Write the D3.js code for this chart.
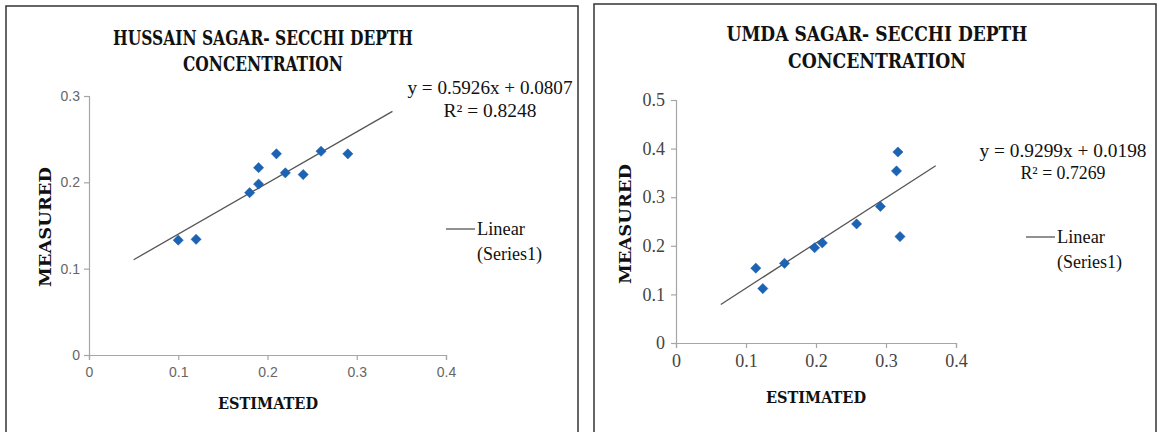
<!DOCTYPE html>
<html><head><meta charset="utf-8">
<script src="https://cdn.jsdelivr.net/npm/d3@7"></script>
<style>body{margin:0;background:#fff}svg{display:block}</style>
</head><body>
<svg id="c" width="1158" height="432"></svg>
<script>
// ---- data ----
const hsEstimated = [0.10, 0.12, 0.18, 0.19, 0.19, 0.21, 0.22, 0.24, 0.26, 0.29];
const hsMeasured  = [0.133, 0.134, 0.188, 0.198, 0.217, 0.233, 0.211, 0.209, 0.236, 0.233];
const hsTrend = {slope: 0.5926, intercept: 0.0807, xFrom: 0.05, xTo: 0.34};
const hsXTicks = [0, 0.1, 0.2, 0.3, 0.4];
const hsYTicks = [0, 0.1, 0.2, 0.3];
const hsTitle = ["HUSSAIN SAGAR- SECCHI DEPTH", "CONCENTRATION"];
const hsEquation = ["y = 0.5926x + 0.0807", "R² = 0.8248"];

const umEstimated = [0.114, 0.124, 0.155, 0.198, 0.209, 0.258, 0.292, 0.315, 0.317, 0.320];
const umMeasured  = [0.154, 0.112, 0.164, 0.196, 0.206, 0.245, 0.281, 0.354, 0.393, 0.219];
const umTrend = {slope: 0.9299, intercept: 0.0198, xFrom: 0.064, xTo: 0.371};
const umXTicks = [0, 0.1, 0.2, 0.3, 0.4];
const umYTicks = [0, 0.1, 0.2, 0.3, 0.4, 0.5];
const umTitle = ["UMDA SAGAR- SECCHI DEPTH", "CONCENTRATION"];
const umEquation = ["y = 0.9299x + 0.0198", "R² = 0.7269"];

const legendLabel = ["Linear", "(Series1)"];
const xTitle = "ESTIMATED", yTitle = "MEASURED";

const svg = d3.select("#c");
const titleFont = "'DejaVu Serif Condensed','DejaVu Serif',serif";
const serif = "'Liberation Serif','Times New Roman',serif";

function chart(cfg) {
  const g = svg.append("g");
  g.append("rect").attr("x", cfg.panel[0]).attr("y", cfg.panel[1])
    .attr("width", cfg.panel[2]).attr("height", cfg.panel[3])
    .attr("fill", "#fff").attr("stroke", "#333").attr("stroke-width", 1.5);

  const x = d3.scaleLinear().domain([0, 0.4]).range(cfg.xr);
  const y = d3.scaleLinear().domain(cfg.yDomain).range(cfg.yr);

  const xa = g.append("g").attr("transform", `translate(0,${cfg.yr[0]})`)
    .call(d3.axisBottom(x).tickValues(cfg.xTicks).tickFormat(d3.format("")).tickSizeOuter(0).tickSize(5).tickPadding(cfg.tickPadX));
  const ya = g.append("g").attr("transform", `translate(${cfg.xr[0]},0)`)
    .call(d3.axisLeft(y).tickValues(cfg.yTicks).tickFormat(d3.format("")).tickSizeOuter(0).tickSize(5).tickPadding(cfg.tickPadY));
  [xa, ya].forEach(a => {
    a.select(".domain").attr("stroke", "#a6a6a6").attr("stroke-width", 1.2);
    a.selectAll(".tick line").attr("stroke", "#a6a6a6").attr("stroke-width", 1.2);
    a.selectAll(".tick text").attr("fill", cfg.tickColor)
      .style("font-family", cfg.tickFont).style("font-size", cfg.tickSize + "px");
  });

  const t = cfg.trend;
  g.append("line")
    .attr("x1", x(t.xFrom)).attr("y1", y(t.slope * t.xFrom + t.intercept))
    .attr("x2", x(t.xTo)).attr("y2", y(t.slope * t.xTo + t.intercept))
    .attr("stroke", "#555").attr("stroke-width", 1.3);

  const sym = d3.symbol().type(d3.symbolSquare).size(52);
  g.selectAll("path.pt").data(cfg.xs.map((v, i) => [v, cfg.ys[i]])).join("path")
    .attr("class", "pt").attr("d", sym)
    .attr("transform", d => `translate(${x(d[0])},${y(d[1])}) rotate(45)`)
    .attr("fill", "#1b63b5").attr("stroke", "#1f5aa0").attr("stroke-width", 0.5);

  cfg.title.forEach((s, i) => {
    g.append("text").text(s).attr("x", cfg.titleX).attr("y", cfg.titleY[i])
      .attr("text-anchor", "middle").attr("textLength", cfg.titleLen[i]).attr("lengthAdjust", "spacingAndGlyphs")
      .style("font-family", titleFont).style("font-weight", "bold").style("font-size", "20px").attr("fill", "#111");
  });

  g.append("text").text(xTitle).attr("x", cfg.xTitlePos[0]).attr("y", cfg.xTitlePos[1])
    .attr("text-anchor", "middle").attr("textLength", 100).attr("lengthAdjust", "spacingAndGlyphs")
    .style("font-family", titleFont).style("font-weight", "bold").style("font-size", "16px").attr("fill", "#111");
  g.append("text").text(yTitle)
    .attr("transform", `translate(${cfg.yTitlePos[0]},${cfg.yTitlePos[1]}) rotate(-90)`)
    .attr("text-anchor", "middle").attr("textLength", 120).attr("lengthAdjust", "spacingAndGlyphs")
    .style("font-family", titleFont).style("font-weight", "bold").style("font-size", "16px").attr("fill", "#111");

  cfg.equation.forEach((s, i) => {
    g.append("text").text(s).attr("x", cfg.eqX).attr("y", cfg.eqY[i])
      .attr("text-anchor", "middle").attr("textLength", cfg.eqLen[i]).attr("lengthAdjust", "spacingAndGlyphs")
      .style("font-family", serif).style("font-size", "18px").attr("fill", "#111");
  });

  g.append("line").attr("x1", cfg.legX).attr("x2", cfg.legX + 29)
    .attr("y1", cfg.legY).attr("y2", cfg.legY).attr("stroke", "#555").attr("stroke-width", 1.3);
  legendLabel.forEach((s, i) => {
    g.append("text").text(s).attr("x", cfg.legX + 31).attr("y", cfg.legY + 6 + i * 25)
      .attr("textLength", i === 0 ? 48 : 65).attr("lengthAdjust", "spacingAndGlyphs")
      .style("font-family", serif).style("font-size", "18px").attr("fill", "#111");
  });
}

chart({
  panel: [6, 6, 572, 440],
  xr: [89, 446], yr: [355, 96], yDomain: [0, 0.3],
  xTicks: hsXTicks, yTicks: hsYTicks,
  tickFont: "'Liberation Sans Narrow','Liberation Sans',Arial,sans-serif", tickSize: 14, tickColor: "#666",
  tickPadX: 7, tickPadY: 4,
  xs: hsEstimated, ys: hsMeasured, trend: hsTrend,
  title: hsTitle, titleX: 263, titleY: [45, 71], titleLen: [300, 160],
  xTitlePos: [268, 409], yTitlePos: [51, 227],
  equation: hsEquation, eqX: 490, eqY: [94, 117], eqLen: [165, 93],
  legX: 446, legY: 229
});

chart({
  panel: [594, 4, 562, 440],
  xr: [676, 956], yr: [343, 100], yDomain: [0, 0.5],
  xTicks: umXTicks, yTicks: umYTicks,
  tickFont: serif, tickSize: 18, tickColor: "#444",
  tickPadX: 6, tickPadY: 6,
  xs: umEstimated, ys: umMeasured, trend: umTrend,
  title: umTitle, titleX: 877, titleY: [41, 68], titleLen: [301, 178],
  xTitlePos: [816, 403], yTitlePos: [631, 224],
  equation: umEquation, eqX: 1063, eqY: [157, 179], eqLen: [167, 85],
  legX: 1026, legY: 237
});
</script>
</body></html>
